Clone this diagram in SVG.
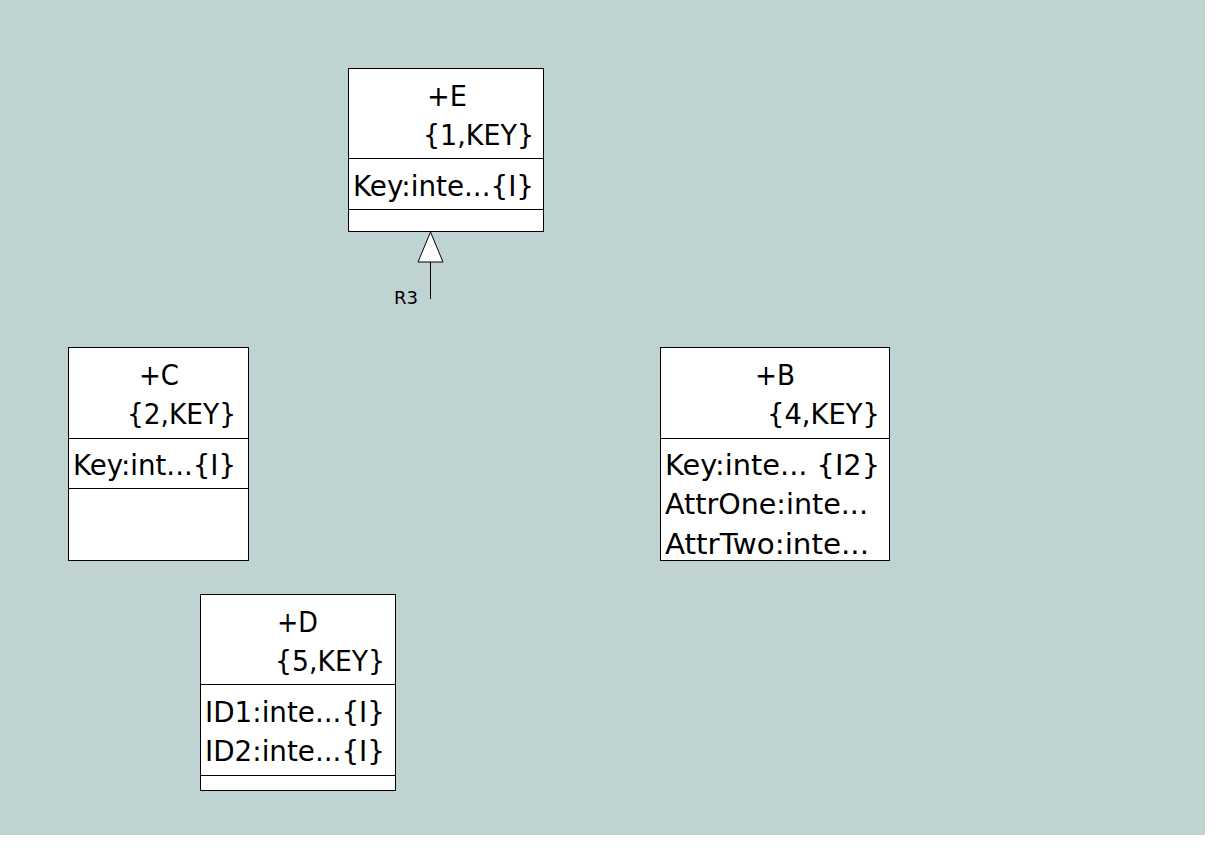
<svg xmlns="http://www.w3.org/2000/svg" width="1231" height="861" viewBox="0 0 1231 861">
<style>
.box{fill:#fff;stroke:#000;stroke-width:1}
.t{font-family:"DejaVu Sans",Verdana,sans-serif;font-size:28px;fill:#000}
.lbl{font-family:"DejaVu Sans",Verdana,sans-serif;font-size:18px;fill:#000}
.ln{stroke:#000;stroke-width:1;fill:none}
</style>
<rect x="0" y="0" width="1231" height="861" fill="#fff"/>
<rect x="0" y="0" width="1205" height="835" fill="#BFD3D2"/>
<g id="connectors">
<line class="ln" x1="430.5" y1="262" x2="430.5" y2="299"/>
<polygon points="430.5,232 418,262 443,262" fill="#fff" stroke="#000" stroke-width="1"/>
<text class="lbl" x="394" y="304" textLength="24" lengthAdjust="spacingAndGlyphs">R3</text>
</g>
<g id="node-E">
<rect class="box" x="348.5" y="68.5" width="195" height="163"/>
<line class="ln" x1="348.5" y1="158.5" x2="543.5" y2="158.5"/>
<line class="ln" x1="348.5" y1="209.5" x2="543.5" y2="209.5"/>
<text class="t" x="427" y="106" textLength="40" lengthAdjust="spacingAndGlyphs">+E</text>
<text class="t" x="423" y="145" textLength="111" lengthAdjust="spacingAndGlyphs">{1,KEY}</text>
<text class="t" x="353" y="196" textLength="181" lengthAdjust="spacingAndGlyphs">Key:inte...{I}</text>
</g>
<g id="node-C">
<rect class="box" x="68.5" y="347.5" width="180" height="213"/>
<line class="ln" x1="68.5" y1="438.5" x2="248.5" y2="438.5"/>
<line class="ln" x1="68.5" y1="488.5" x2="248.5" y2="488.5"/>
<text class="t" x="139" y="385" textLength="40" lengthAdjust="spacingAndGlyphs">+C</text>
<text class="t" x="127" y="424" textLength="109" lengthAdjust="spacingAndGlyphs">{2,KEY}</text>
<text class="t" x="73" y="475" textLength="163" lengthAdjust="spacingAndGlyphs">Key:int...{I}</text>
</g>
<g id="node-B">
<rect class="box" x="660.5" y="347.5" width="229" height="213"/>
<line class="ln" x1="660.5" y1="438.5" x2="889.5" y2="438.5"/>
<text class="t" x="755" y="385" textLength="40" lengthAdjust="spacingAndGlyphs">+B</text>
<text class="t" x="767" y="424" textLength="113" lengthAdjust="spacingAndGlyphs">{4,KEY}</text>
<text class="t" x="665" y="475" textLength="215" lengthAdjust="spacingAndGlyphs">Key:inte... {I2}</text>
<text class="t" x="665" y="514" textLength="203" lengthAdjust="spacingAndGlyphs">AttrOne:inte...</text>
<text class="t" x="665" y="554" textLength="204" lengthAdjust="spacingAndGlyphs">AttrTwo:inte...</text>
</g>
<g id="node-D">
<rect class="box" x="200.5" y="594.5" width="195" height="196"/>
<line class="ln" x1="200.5" y1="684.5" x2="395.5" y2="684.5"/>
<line class="ln" x1="200.5" y1="775.5" x2="395.5" y2="775.5"/>
<text class="t" x="277" y="632" textLength="41" lengthAdjust="spacingAndGlyphs">+D</text>
<text class="t" x="275" y="671" textLength="110" lengthAdjust="spacingAndGlyphs">{5,KEY}</text>
<text class="t" x="205" y="722" textLength="180" lengthAdjust="spacingAndGlyphs">ID1:inte...{I}</text>
<text class="t" x="205" y="761" textLength="180" lengthAdjust="spacingAndGlyphs">ID2:inte...{I}</text>
</g>
</svg>
